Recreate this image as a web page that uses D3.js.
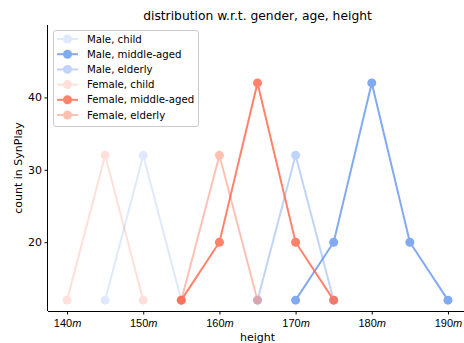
<!DOCTYPE html>
<html><head><meta charset="utf-8">
<script src="https://cdn.jsdelivr.net/npm/d3@7"></script>
<style>body{margin:0;background:#fff}svg{display:block;font-family:"DejaVu Sans",sans-serif}</style>
</head><body>
<script>
const xTicks = [140,150,160,170,180,190];
const yTicks = [20,30,40];
const seriesNames = ["Male, child","Male, middle-aged","Male, elderly","Female, child","Female, middle-aged","Female, elderly"];
const seriesColors = ["#6495ED","#6495ED","#6495ED","#FF6347","#FF6347","#FF6347"];
const seriesAlpha = [0.2,0.8,0.4,0.2,0.8,0.4];
const maleChildX = [145,150,155], maleChildY = [12,32,12];
const maleMidX = [170,175,180,185,190], maleMidY = [12,20,42,20,12];
const maleOldX = [165,170,175], maleOldY = [12,32,12];
const femChildX = [140,145,150], femChildY = [12,32,12];
const femMidX = [155,160,165,170,175], femMidY = [12,20,42,20,12];
const femOldX = [155,160,165], femOldY = [12,32,12];
const seriesX = [maleChildX,maleMidX,maleOldX,femChildX,femMidX,femOldX];
const seriesY = [maleChildY,maleMidY,maleOldY,femChildY,femMidY,femOldY];

const W=464,H=343;
const L=48,R=467,T=25,B=311;
const svg=d3.select("body").append("svg").attr("width",W).attr("height",H);
const x=d3.scaleLinear().domain([137.5,192.5]).range([L,R]);
const y=d3.scaleLinear().domain([10.5,50]).range([B,T]);

const line=d3.line().x(d=>x(d[0])).y(d=>y(d[1]));
seriesNames.forEach((n,i)=>{
  const pts=seriesX[i].map((v,j)=>[v,seriesY[i][j]]);
  const g=svg.append("g").attr("opacity",seriesAlpha[i]);
  g.append("path").attr("d",line(pts)).attr("fill","none").attr("stroke",seriesColors[i]).attr("stroke-width",2);
  g.selectAll("circle").data(pts).enter().append("circle").attr("cx",d=>x(d[0])).attr("cy",d=>y(d[1])).attr("r",4.5).attr("fill",seriesColors[i]);
});

// axes
const xa=svg.append("g").attr("transform",`translate(0,${B})`).call(d3.axisBottom(x).tickValues(xTicks).tickSize(3.5).tickFormat(""));
xa.select(".domain").attr("d",`M${L},0.5H${R}`).attr("stroke","#000").attr("stroke-width",1);
xa.selectAll(".tick line").attr("stroke","#000");
xa.selectAll(".tick").append("text").attr("y",16).attr("fill","#000").attr("text-anchor","middle").attr("font-size",11)
  .each(function(d){const t=d3.select(this);t.append("tspan").text(d);t.append("tspan").attr("font-style","italic").text("m");});
const ya=svg.append("g").attr("transform",`translate(${L},0)`).call(d3.axisLeft(y).tickValues(yTicks).tickSize(3.5));
ya.select(".domain").attr("d",`M-0.5,${T}V${B}`).attr("stroke","#000");
ya.selectAll(".tick text").attr("font-size",11).attr("fill","#000").attr("x",-6).attr("font-family","DejaVu Sans");

svg.append("text").attr("x",(L+R)/2).attr("y",19.5).attr("text-anchor","middle").attr("font-size",12.3).text("distribution w.r.t. gender, age, height");
svg.append("text").attr("x",(L+R)/2).attr("y",340.5).attr("text-anchor","middle").attr("font-size",11).text("height");
svg.append("text").attr("transform",`translate(22,${(T+B)/2}) rotate(-90)`).attr("text-anchor","middle").attr("font-size",11).text("count in SynPlay");

// legend
const lg=svg.append("g");
lg.append("rect").attr("x",53.5).attr("y",30.5).attr("width",145).attr("height",96).attr("rx",2.5).attr("fill","#fff").attr("fill-opacity",0.8).attr("stroke","#ccc");
seriesNames.forEach((n,i)=>{
  const yy=39+i*15.2;
  const g=lg.append("g").attr("opacity",seriesAlpha[i]);
  g.append("line").attr("x1",57).attr("x2",78).attr("y1",yy).attr("y2",yy).attr("stroke",seriesColors[i]).attr("stroke-width",2);
  g.append("circle").attr("cx",67.5).attr("cy",yy).attr("r",4.5).attr("fill",seriesColors[i]);
  lg.append("text").attr("x",87).attr("y",yy+3.6).attr("font-size",10.2).text(n);
});
</script>
</body></html>
